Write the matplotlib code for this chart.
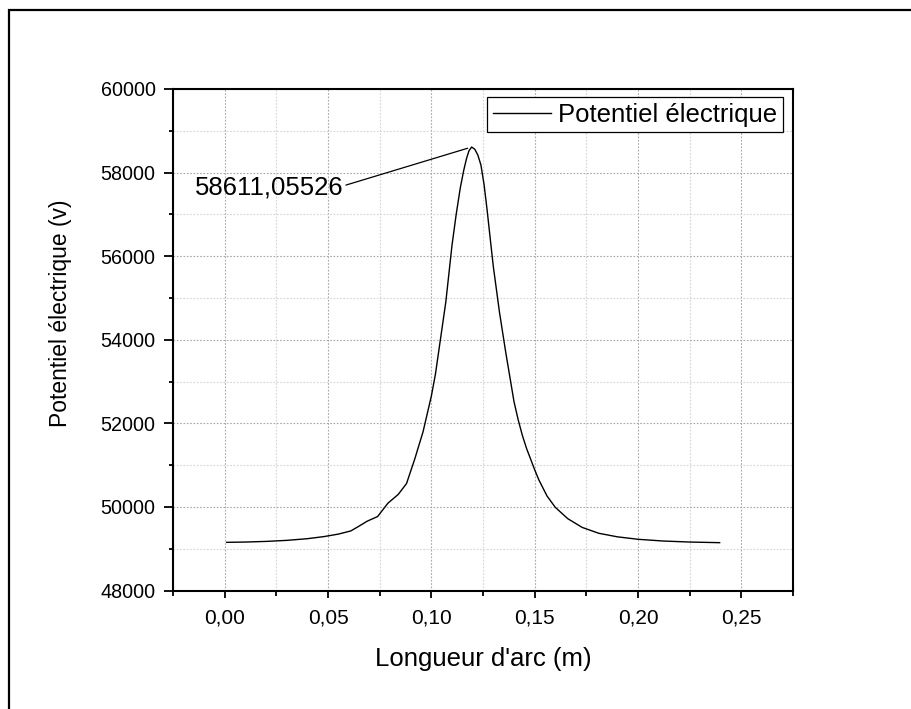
import matplotlib
matplotlib.use("Agg")
import matplotlib.pyplot as plt
from matplotlib.ticker import FixedLocator, MultipleLocator, FuncFormatter
from matplotlib.patches import Rectangle

# Arc length along the line (m) and electric potential (V)
arc_length = [0.001, 0.010, 0.020, 0.030, 0.040, 0.048, 0.055, 0.061, 0.065,
              0.069, 0.074, 0.079, 0.084, 0.088, 0.092, 0.096, 0.100, 0.102,
              0.104, 0.107, 0.110, 0.112, 0.114, 0.1157, 0.117, 0.1182,
              0.1195, 0.121, 0.1225, 0.124, 0.1255, 0.127, 0.1285, 0.130,
              0.133, 0.136, 0.140, 0.142, 0.144, 0.146, 0.148, 0.150, 0.152,
              0.156, 0.160, 0.166, 0.173, 0.181, 0.190, 0.200, 0.212, 0.225,
              0.2395]
potential = [49153, 49160, 49175, 49200, 49240, 49290, 49350, 49425, 49540,
             49660, 49770, 50090, 50300, 50560, 51150, 51800, 52650, 53180,
             53870, 54900, 56260, 56990, 57630, 58058, 58330, 58520,
             58611.05526, 58560, 58420, 58180, 57720, 57100, 56420, 55750,
             54650, 53700, 52520, 52090, 51720, 51410, 51150, 50890, 50650,
             50260, 49990, 49720, 49510, 49370, 49285, 49226, 49185, 49160,
             49145]

peak_x = 0.1195
peak_y = 58611.05526

x_ticks = [0.00, 0.05, 0.10, 0.15, 0.20, 0.25]
y_ticks = [48000, 50000, 52000, 54000, 56000, 58000, 60000]

series_label = "Potentiel électrique"
x_title = "Longueur d'arc (m)"
y_title = "Potentiel électrique (v)"

plt.rcParams['font.family'] = ['Liberation Sans', 'DejaVu Sans']

fig = plt.figure(figsize=(9.12, 7.09), dpi=100)
ax = fig.add_axes([0.1897, 0.1671, 0.6798, 0.7074])

# page frame
fig.patches.append(Rectangle((9.5 / 912, -0.05), 1.1, 1 - 10 / 709 + 0.05,
                             transform=fig.transFigure, fill=False,
                             edgecolor='black', linewidth=1.6, zorder=0))

ax.plot(arc_length, potential, color='black', linewidth=1.0,
        label=series_label)

ax.set_xlim(-0.025, 0.275)
ax.set_ylim(48000, 60000)

ax.xaxis.set_major_locator(FixedLocator(x_ticks))
ax.xaxis.set_minor_locator(MultipleLocator(0.025))
ax.yaxis.set_major_locator(FixedLocator(y_ticks))
ax.yaxis.set_minor_locator(MultipleLocator(1000))
ax.xaxis.set_major_formatter(
    FuncFormatter(lambda v, p: f"{v:.2f}".replace('.', ',')))
ax.yaxis.set_major_formatter(FuncFormatter(lambda v, p: f"{v:.0f}"))

ax.grid(which='major', color='#a8a8a8', linestyle=(0, (1.5, 1.5)),
        linewidth=0.8)
ax.grid(which='minor', color='#d4d4d4', linestyle=(0, (1.5, 1.5)),
        linewidth=0.8)
ax.set_axisbelow(True)

for s in ax.spines.values():
    s.set_linewidth(1.5)

ax.tick_params(axis='x', which='major', direction='out', length=5, width=1.3,
               labelsize=15, pad=8, top=False)
ax.tick_params(axis='x', which='minor', direction='out', length=3.4,
               width=1.3, top=False)
ax.tick_params(axis='y', which='major', direction='out', length=6.5,
               width=1.3, labelsize=14.2, pad=6, right=False)
ax.tick_params(axis='y', which='minor', direction='out', length=3.2,
               width=1.3, right=False)

ax.set_xlabel(x_title, fontsize=18.5, labelpad=14)
ax.set_ylabel(y_title, fontsize=16.5)
ax.yaxis.set_label_coords(-0.163, 0.552)

leg = ax.legend(loc='upper right', fontsize=18.5, frameon=True, fancybox=False,
                framealpha=1, edgecolor='black', handlelength=2.25,
                borderpad=0.22, handletextpad=0.3,
                bbox_to_anchor=(0.984, 0.984), borderaxespad=0)
leg.get_frame().set_linewidth(0.9)

peak_text = f"{peak_y:.5f}".replace('.', ',')
ax.annotate(peak_text, xy=(peak_x, peak_y), xytext=(0.0214, 57652),
            textcoords='data', ha='center', va='center', fontsize=18.5,
            arrowprops=dict(arrowstyle='-', color='black', linewidth=0.9,
                            shrinkA=0, shrinkB=3, relpos=(1.0, 0.55)))

fig.savefig("out.png", dpi=100)
